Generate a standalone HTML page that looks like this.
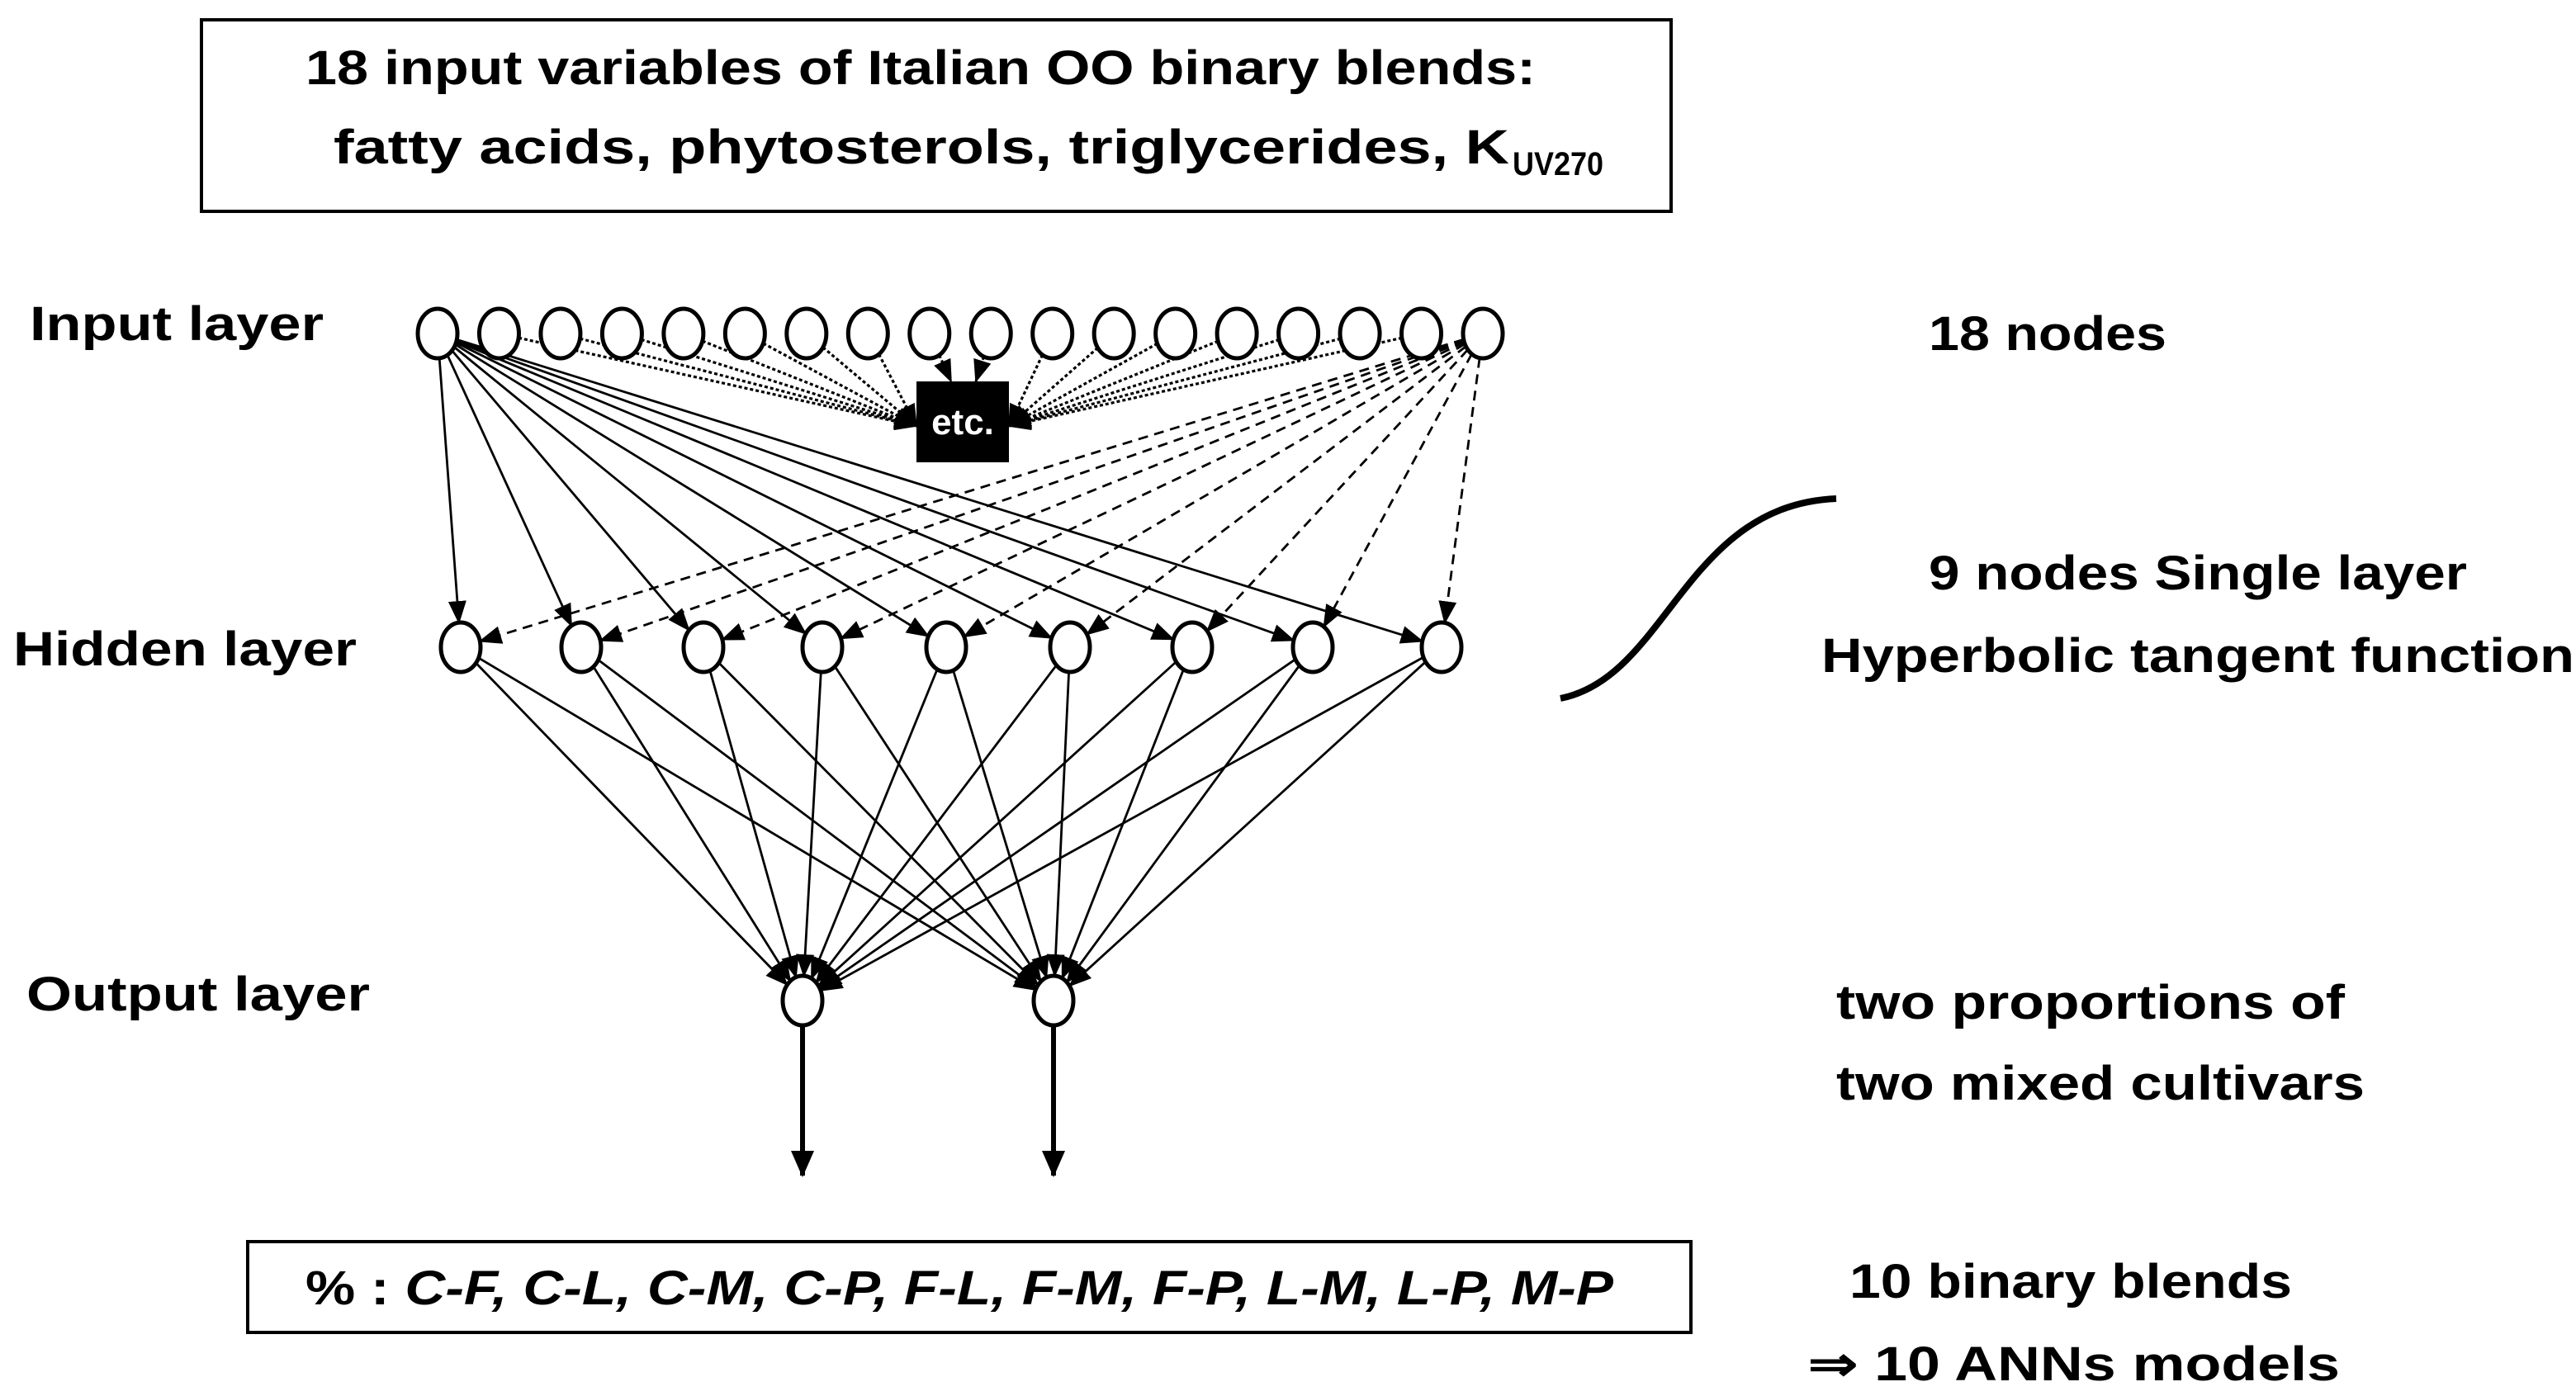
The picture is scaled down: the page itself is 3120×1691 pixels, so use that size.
<!DOCTYPE html>
<html><head><meta charset="utf-8"><style>
html,body{margin:0;padding:0;background:#fff}
svg{display:block}
text{font-family:"Liberation Sans",sans-serif;font-weight:bold;fill:#000}
</style></head><body>
<svg id="s" width="3120" height="1691" viewBox="0 0 1560 845.5" xmlns="http://www.w3.org/2000/svg">
<defs>
<marker id="a" markerWidth="14" markerHeight="11" refX="13" refY="5.5" orient="auto" markerUnits="userSpaceOnUse"><path d="M0,0 L14,5.5 L0,11 z" fill="#000"/></marker>
<marker id="b" markerWidth="16" markerHeight="14" refX="15" refY="7" orient="auto" markerUnits="userSpaceOnUse"><path d="M0,0 L16,7 L0,14 z" fill="#000"/></marker>
</defs>
<rect x="122" y="12" width="890" height="116" fill="none" stroke="#000" stroke-width="2"/>
<text x="185" y="51" font-size="29" textLength="745" lengthAdjust="spacingAndGlyphs">18 input variables of Italian OO binary blends:</text>
<text x="202" y="99" font-size="29" textLength="712" lengthAdjust="spacingAndGlyphs">fatty acids, phytosterols, triglycerides, K</text>
<text x="916" y="106" font-size="20" textLength="55" lengthAdjust="spacingAndGlyphs">UV270</text>

<text x="18" y="206" font-size="29" textLength="178" lengthAdjust="spacingAndGlyphs">Input layer</text>
<text x="8" y="403" font-size="29" textLength="208" lengthAdjust="spacingAndGlyphs">Hidden layer</text>
<text x="16" y="612" font-size="29" textLength="208" lengthAdjust="spacingAndGlyphs">Output layer</text>
<text x="1168" y="212" font-size="29" textLength="144" lengthAdjust="spacingAndGlyphs">18 nodes</text>
<text x="1168" y="357" font-size="29" textLength="326" lengthAdjust="spacingAndGlyphs">9 nodes Single layer</text>
<text x="1103" y="407" font-size="29" textLength="456" lengthAdjust="spacingAndGlyphs">Hyperbolic tangent function</text>
<text x="1112" y="617" font-size="29" textLength="308" lengthAdjust="spacingAndGlyphs">two proportions of</text>
<text x="1112" y="666" font-size="29" textLength="320" lengthAdjust="spacingAndGlyphs">two mixed cultivars</text>
<text x="1120" y="786" font-size="29" textLength="268" lengthAdjust="spacingAndGlyphs">10 binary blends</text>
<text x="1095" y="836" font-size="29" textLength="322" lengthAdjust="spacingAndGlyphs">⇒ 10 ANNs models</text>

<rect x="150" y="752" width="874" height="55" fill="none" stroke="#000" stroke-width="2"/>
<text x="185" y="790" font-size="29" textLength="792" lengthAdjust="spacingAndGlyphs">% : <tspan font-style="italic">C-F, C-L, C-M, C-P, F-L, F-M, F-P, L-M, L-P, M-P</tspan></text>

<path d="M945 423 C1010 410 1020 306 1112 302" fill="none" stroke="#000" stroke-width="4"/>

<rect x="555" y="231" width="56" height="49" fill="#000"/>
<text x="583" y="263" font-size="22" fill="#fff" style="fill:#fff" text-anchor="middle">etc.</text>
<g id="g"></g>
<line x1="486" y1="622" x2="486" y2="712" stroke="#000" stroke-width="3" marker-end="url(#b)"/>
<line x1="638" y1="622" x2="638" y2="712" stroke="#000" stroke-width="3" marker-end="url(#b)"/>
</svg>
<script>
var NS="http://www.w3.org/2000/svg",g=document.getElementById('g');
var rx=12,ry=15;
var inp=[],hid=[],out=[[486,606],[638,606]];
for(var i=0;i<18;i++)inp.push([265+i*(898-265)/17,202]);
[279,352,426,498,573,648,722,795,873].forEach(function(x){hid.push([x,392]);});
function el(n,a){var e=document.createElementNS(NS,n);for(var k in a)e.setAttribute(k,a[k]);g.appendChild(e);return e;}
function edge(c,dx,dy){var t=1/Math.sqrt(dx*dx/(rx*rx)+dy*dy/(ry*ry));return [c[0]+dx*t,c[1]+dy*t];}
function conn(p,q,dash,w){var dx=q[0]-p[0],dy=q[1]-p[1];var s=edge(p,dx,dy),e=edge(q,-dx,-dy);
var a={x1:s[0],y1:s[1],x2:e[0],y2:e[1],stroke:"#000","stroke-width":w||1.4,"marker-end":"url(#a)"};if(dash)a["stroke-dasharray"]=dash;el('line',a);}
hid.forEach(function(h){conn(inp[0],h);conn(inp[17],h,"6,4");});
hid.forEach(function(h){out.forEach(function(o){conn(h,o);});});
for(var i=1;i<17;i++){var p=inp[i];var tx,ty;
 if(i==8){tx=576;ty=231;}else if(i==9){tx=591;ty=231;}
 else if(i<8){tx=555;ty=258;}else{tx=611;ty=258;}
 var dx=tx-p[0],dy=ty-p[1];var s=edge(p,dx,dy);
 el('line',{x1:s[0],y1:s[1],x2:tx,y2:ty,stroke:"#000","stroke-width":1.6,"stroke-dasharray":"2,1.5","marker-end":"url(#a)"});}
inp.concat(hid,out).forEach(function(c){el('ellipse',{cx:c[0],cy:c[1],rx:rx,ry:ry,fill:"#fff",stroke:"#000","stroke-width":2.5});});
</script>
</body></html>
